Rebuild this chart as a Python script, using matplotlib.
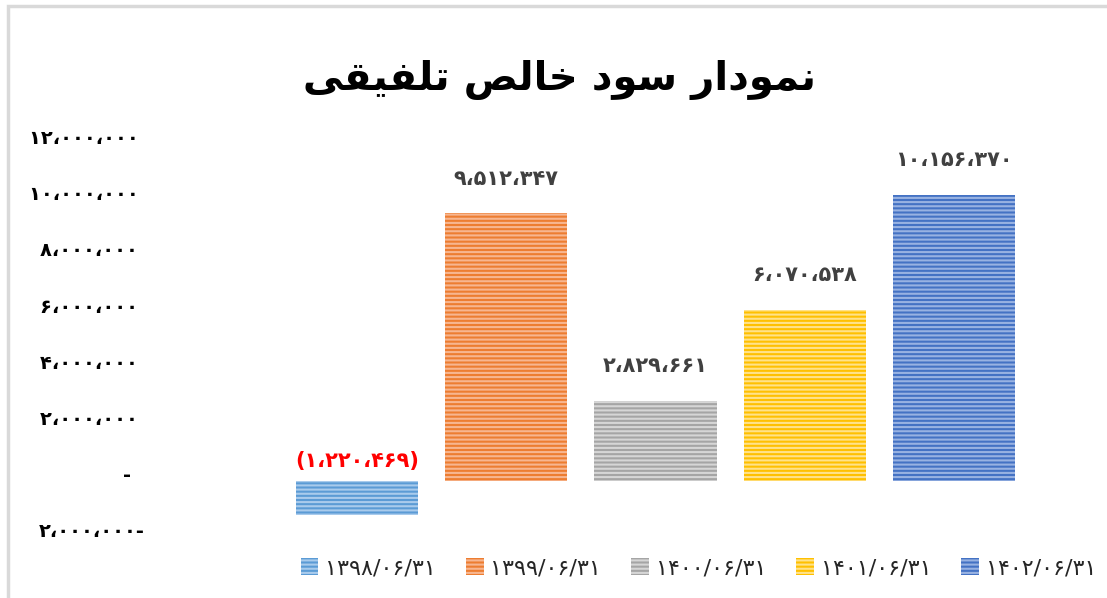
import matplotlib.pyplot as plt
from matplotlib.patches import Rectangle
from matplotlib.transforms import ScaledTranslation

# chart data
dates = ['1398/06/31', '1399/06/31', '1400/06/31', '1401/06/31', '1402/06/31']
profit = [-1220469, 9512347, 2829661, 6070538, 10156370]
bar_colors = ['#5b9bd5', '#ed7d31', '#a5a5a5', '#ffc000', '#4472c4']
stripe_colors = ['#a9cbec', '#f7b690', '#d6d6d6', '#ffe28a', '#98b2e2']
y_ticks = [-2000000, 0, 2000000, 4000000, 6000000, 8000000, 10000000, 12000000]
title = 'نمودار سود خالص تلفیقی'

# arabic presentation forms: (isolated, final, initial, medial)
forms = {
    'ا': ('\uFE8D', '\uFE8E'),
    'د': ('\uFEA9', '\uFEAA'),
    'ر': ('\uFEAD', '\uFEAE'),
    'و': ('\uFEED', '\uFEEE'),
    'ت': ('\uFE95', '\uFE96', '\uFE97', '\uFE98'),
    'خ': ('\uFEA5', '\uFEA6', '\uFEA7', '\uFEA8'),
    'س': ('\uFEB1', '\uFEB2', '\uFEB3', '\uFEB4'),
    'ص': ('\uFEB9', '\uFEBA', '\uFEBB', '\uFEBC'),
    'ف': ('\uFED1', '\uFED2', '\uFED3', '\uFED4'),
    'ق': ('\uFED5', '\uFED6', '\uFED7', '\uFED8'),
    'ل': ('\uFEDD', '\uFEDE', '\uFEDF', '\uFEE0'),
    'م': ('\uFEE1', '\uFEE2', '\uFEE3', '\uFEE4'),
    'ن': ('\uFEE5', '\uFEE6', '\uFEE7', '\uFEE8'),
    'ی': ('\uFBFC', '\uFBFD', '\uFBFE', '\uFBFF'),
}

def shape_rtl(text):
    out = []
    for i, ch in enumerate(text):
        if ch not in forms:
            out.append(ch)
            continue
        prev = text[i - 1] if i > 0 else ''
        nxt = text[i + 1] if i + 1 < len(text) else ''
        join_prev = prev in forms and len(forms[prev]) == 4
        join_next = len(forms[ch]) == 4 and nxt in forms
        f = forms[ch]
        if join_prev and join_next:
            out.append(f[3])
        elif join_prev:
            out.append(f[1])
        elif join_next:
            out.append(f[2])
        else:
            out.append(f[0])
    return ''.join(reversed(out))

fa_digits = str.maketrans('0123456789', '۰۱۲۳۴۵۶۷۸۹')

def fa_num(v):
    return '{:,}'.format(abs(v)).replace(',', '،').translate(fa_digits)

def tick_label(v):
    if v == 0:
        return '-\u2007'
    if v < 0:
        return fa_num(v) + '-'
    return fa_num(v) + ' '

def bar_label(v):
    if v < 0:
        return '(' + fa_num(v) + ')'
    return fa_num(v)

plt.rcParams['hatch.linewidth'] = 1.5

fig = plt.figure(figsize=(11.07, 5.98), dpi=100)
ax = fig.add_axes([0.2552, 0.1023, 0.6739, 0.6579])

x = range(len(profit))
bars = ax.bar(x, profit, width=0.82, color=bar_colors, edgecolor=stripe_colors,
              linewidth=0, hatch='----')

ax.set_xlim(-0.5, len(profit) - 0.5)
ax.set_ylim(-2000000, 12000000)
ax.set_yticks(y_ticks)
ax.set_yticklabels([tick_label(v) for v in y_ticks], fontsize=14,
                   fontweight='bold', color='black')
ax.tick_params(axis='y', length=0, pad=99)
ax.set_xticks([])
for s in ax.spines.values():
    s.set_visible(False)
# excel draws the value labels a little above the tick position
for lbl in ax.get_yticklabels():
    lbl.set_transform(lbl.get_transform() +
                      ScaledTranslation(0, 5 / 72, fig.dpi_scale_trans))

for i, v in enumerate(profit):
    if v < 0:
        ax.annotate(bar_label(v), (i, 0), xytext=(0, 14),
                    textcoords='offset points', ha='center', va='center',
                    fontsize=15, fontweight='bold', color='#ff0000')
    else:
        ax.annotate(bar_label(v), (i, v), xytext=(0, 25),
                    textcoords='offset points', ha='center', va='center',
                    fontsize=15, fontweight='bold', color='#404040')

fig.text(0.505, 0.866, shape_rtl(title), ha='center', va='center',
         fontsize=29, fontweight='bold', color='black')

handles = [Rectangle((0, 0), 1, 1, facecolor=bar_colors[i],
                     edgecolor=stripe_colors[i], linewidth=0, hatch='----')
           for i in range(len(dates))]
fig.legend(handles, [d.translate(fa_digits) for d in dates], ncol=5,
           loc='center', bbox_to_anchor=(0.631, 0.05), frameon=False,
           fontsize=16, handlelength=0.8, handleheight=0.8,
           columnspacing=1.35, handletextpad=0.3, labelcolor='#262626')

# chart border
fig.add_artist(Rectangle((0.0068, -0.01), 1.1, 1.0, transform=fig.transFigure,
                         fill=False, edgecolor='#d9d9d9', linewidth=2.5))

plt.savefig('out.png')
